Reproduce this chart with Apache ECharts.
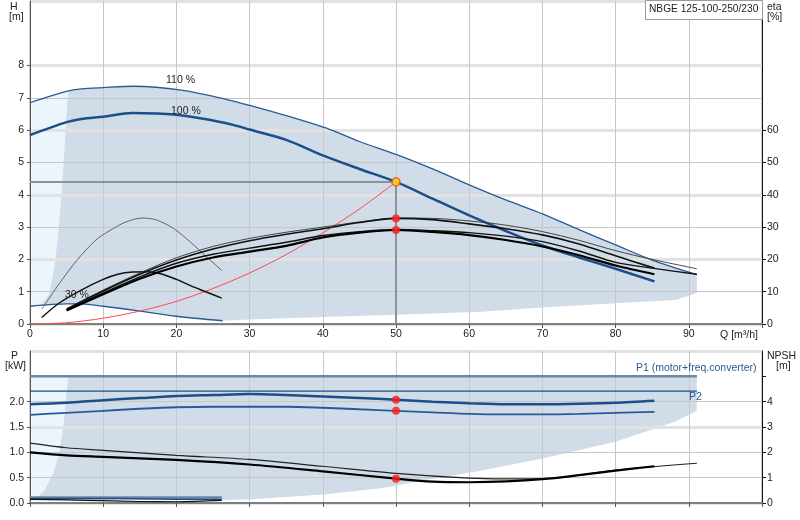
<!DOCTYPE html>
<html>
<head>
<meta charset="utf-8">
<script src="https://cdn.jsdelivr.net/npm/echarts@6/dist/echarts.min.js"></script>
<style>
html,body{margin:0;padding:0;background:#fff;}
#container{width:800px;height:520px;}
</style>
</head>
<body>
<div id="container"></div>
<script>
// head curves (Q in m3/h, H in m)
var Q_H110 = [0, 5, 7, 10, 14.1, 20.7, 26.9, 30, 35, 41, 45, 50, 55, 60, 65, 70, 75, 80, 85, 91.1];
var H110 = [6.85, 7.2, 7.28, 7.32, 7.36, 7.24, 6.95, 6.77, 6.45, 6.02, 5.65, 5.25, 4.8, 4.31, 3.84, 3.41, 2.92, 2.45, 1.98, 1.53];
var Q_H100 = [0, 5, 7, 10, 14, 20, 25, 28, 30, 35, 40, 45, 50, 55, 60, 65, 70, 75, 80, 85.3];
var H100 = [5.85, 6.25, 6.35, 6.42, 6.53, 6.48, 6.3, 6.15, 6.02, 5.7, 5.22, 4.8, 4.4, 3.88, 3.36, 2.88, 2.43, 2.06, 1.71, 1.32];
var Q_H30 = [0, 5, 7, 10, 15, 20, 26.3];
var H30 = [0.55, 0.62, 0.62, 0.55, 0.40, 0.24, 0.10];
var Q_SYS = [0, 5, 10, 15, 20, 25, 30, 35, 40, 45, 50];
var H_SYS = [0, 0.04, 0.18, 0.40, 0.70, 1.10, 1.58, 2.15, 2.82, 3.56, 4.4];

// efficiency curves (%)
var Q_ETA110 = [5, 10, 15, 20, 25, 30, 35, 40, 45, 50, 55, 60, 65, 70, 75, 80, 85, 91.1];
var ETA_P110 = [4.8, 10.5, 15.8, 20.5, 24.0, 26.5, 28.4, 30.0, 31.6, 32.8, 32.7, 31.9, 30.6, 28.6, 25.9, 22.7, 20.0, 17.1];
var ETA_T110 = [4.4, 9.6, 14.6, 18.8, 21.6, 23.5, 25.3, 27.4, 28.6, 29.3, 28.9, 28.3, 27.2, 25.5, 22.6, 19.1, 17.3, 15.4];
var Q_ETA100 = [5, 10, 15, 20, 25, 30, 35, 40, 45, 50, 55, 60, 65, 70, 75, 80, 85.3];
var ETA_P100 = [4.5, 10.2, 15.4, 19.8, 23.2, 25.8, 27.8, 29.5, 31.4, 32.7, 32.3, 31.0, 29.5, 27.6, 24.8, 21.1, 17.3];
var ETA_T100 = [4.2, 9.2, 14.0, 17.8, 20.6, 22.4, 24.2, 26.8, 28.3, 29.1, 28.5, 27.5, 26.0, 24.0, 21.3, 18.1, 15.4];
var Q_ETA30A = [1.6, 4, 6.4, 9, 10.9, 13, 15.3, 17.3, 19.6, 22, 24, 26.2];
var ETA30A = [4.6, 12.5, 19.7, 26.0, 28.9, 31.5, 32.8, 32.2, 29.6, 25.2, 21.0, 16.6];
var Q_ETA30B = [1.6, 4, 7, 10, 12, 14, 16, 18, 20, 22, 24, 26.2];
var ETA30B = [2.0, 6.5, 10.5, 13.8, 15.4, 16.1, 16.2, 15.5, 13.8, 11.8, 10.0, 8.0];

// duty point
var DUTY_Q = 50;
var DUTY_H = 4.4;
var DUTY_ETA = [32.7, 29.1];
var DUTY_P = [2.04, 1.82];
var DUTY_NPSH = 0.96;

// power (kW) and NPSH (m)
var Q_P100 = [0, 5, 10, 15, 20, 25, 30, 35, 40, 45, 50, 55, 60, 65, 70, 75, 80, 85.3];
var P1_100 = [1.95, 1.98, 2.03, 2.07, 2.11, 2.13, 2.15, 2.13, 2.10, 2.07, 2.04, 2.0, 1.97, 1.95, 1.95, 1.96, 1.98, 2.02];
var P2_100 = [1.74, 1.78, 1.82, 1.86, 1.89, 1.90, 1.90, 1.90, 1.88, 1.85, 1.82, 1.79, 1.76, 1.75, 1.75, 1.76, 1.78, 1.80];
var Q_PMAX = [0, 91.1];
var P1_MAX = [2.5, 2.5];
var P2_MAX = [2.21, 2.21];
var Q_P30 = [0, 5, 10, 15, 20, 26.2];
var P1_30 = [0.11, 0.11, 0.11, 0.11, 0.11, 0.11];
var P2_30 = [0.09, 0.09, 0.09, 0.085, 0.075, 0.07];
var NPSH_30 = [0.14, 0.12, 0.09, 0.06, 0.05, 0.1];
var Q_NPSH_A = [0, 5, 10, 20, 30, 40, 50, 60, 65, 70, 75, 80, 91.1];
var NPSH_A = [2.36, 2.18, 2.08, 1.88, 1.72, 1.45, 1.17, 0.98, 0.95, 0.95, 1.1, 1.3, 1.57];
var Q_NPSH_B = [0, 5, 10, 20, 30, 40, 50, 55, 60, 65, 70, 75, 80, 85.3];
var NPSH_B = [2.0, 1.88, 1.82, 1.70, 1.52, 1.25, 0.96, 0.84, 0.82, 0.85, 0.94, 1.1, 1.28, 1.45];

// tick labels
var Q_TICKS = [0, 10, 20, 30, 40, 50, 60, 70, 80, 90];
var H_TICKS = [0, 1, 2, 3, 4, 5, 6, 7, 8];
var ETA_TICKS = [0, 10, 20, 30, 40, 50, 60];
var P_TICKS = [0, 0.5, 1.0, 1.5, 2.0];
var NPSH_TICKS = [0, 1, 2, 3, 4];

// operating range outlines
var EDGE_Q = [1.5, 2.64, 3.33, 3.88, 4.24, 4.56, 4.83, 5.1, 5.24];
var EDGE_H = [0.57, 0.94, 1.76, 2.79, 3.82, 4.84, 5.87, 6.89, 7.2];
var LOW_Q = [91.1, 88.2, 80, 70, 61.6, 50, 40, 30, 26.3];
var LOW_H = [0.96, 0.74, 0.64, 0.51, 0.38, 0.29, 0.22, 0.14, 0.10];
var B_EDGE_Q = [1.0, 2.05, 3.2, 4.0, 4.56, 5.0, 5.24];
var B_EDGE_P = [0.11, 0.26, 0.59, 0.98, 1.51, 2.17, 2.5];
var B_LOW_Q = [91.1, 88, 80, 70, 61, 55, 48, 40, 30, 26.2, 1.0];
var B_LOW_P = [1.82, 1.6, 1.21, 0.88, 0.62, 0.48, 0.29, 0.17, 0.07, 0.06, 0.06];

function zip(a, b) {
  return a.map(function (v, i) { return [v, b[i]]; });
}

// top shaded area: left edge, 110% curve, right edge, lower edge, 30% curve back
var topArea = zip(EDGE_Q, EDGE_H)
  .concat(zip(Q_H110, H110).filter(function (d) { return d[0] > 5.24; }))
  .concat(zip(LOW_Q, LOW_H))
  .concat(zip(Q_H30, H30).filter(function (d) { return d[0] < 26.3 && d[0] > 1.5; }).reverse());
var topLight = [[0, H30[0]], [5.3, H30[1]], [5.3, 7.21], [0, H110[0]]];
var botArea = zip(B_EDGE_Q, B_EDGE_P).concat([[91.1, 2.5]]).concat(zip(B_LOW_Q, B_LOW_P));
var botLight = [[0, 0.1], [5.3, 0.1], [5.3, 2.5], [0, 2.5]];

function area(pts, color, g) {
  return {
    type: 'custom', xAxisIndex: g, yAxisIndex: g * 3, silent: true, z: -1,
    data: pts,
    renderItem: function (params, api) {
      if (params.dataIndex !== 0) return;
      return {
        type: 'polygon',
        shape: { points: pts.map(function (d) { return api.coord(d); }) },
        style: { fill: color }
      };
    }
  };
}

function curve(q, v, xi, yi, color, width) {
  return {
    type: 'line', xAxisIndex: xi, yAxisIndex: yi, data: zip(q, v),
    showSymbol: false, symbol: 'none', smooth: 0.3, silent: true, z: 3,
    lineStyle: { color: color, width: width }
  };
}

function dots(pts, xi, yi, fill, border) {
  return {
    type: 'scatter', xAxisIndex: xi, yAxisIndex: yi, data: pts, symbolSize: 8, z: 6,
    itemStyle: { color: fill, borderColor: border, borderWidth: border ? 1.5 : 0 }
  };
}

var chart = echarts.init(document.getElementById('container'));
var font = 'Liberation Sans, Arial, sans-serif';
var fs = 10.5;
var lbl = { color: '#222', fontSize: fs, fontFamily: font };
var blue = '#1b4f8a';
var blue2 = '#2a5a96';
var slate = '#6e86a5';

function txt(x, y, s, color) {
  return { type: 'text', left: x, top: y, z: 11, style: { text: s, font: fs + 'px ' + font, fill: color || '#222' } };
}

var option = {
  animation: false,
  textStyle: { fontFamily: font },
  grid: [
    { left: 30, right: 38, top: 1, height: 323, show: true, borderColor: '#9a9a9a', borderWidth: 1 },
    { left: 30, right: 38, top: 351, height: 152, show: true, borderColor: '#9a9a9a', borderWidth: 1 }
  ],
  xAxis: [
    {
      gridIndex: 0, type: 'value', min: 0, max: 100, interval: 10,
      name: 'Q [m³/h]', nameLocation: 'end', nameGap: 0,
      nameTextStyle: { color: '#222', fontSize: fs, align: 'right', verticalAlign: 'top', padding: [6, 4, 0, 0] },
      axisLine: { lineStyle: { color: '#7f7f7f', width: 2 } },
      axisTick: { length: 4, lineStyle: { color: '#555' } },
      axisLabel: Object.assign({ margin: 5, customValues: Q_TICKS }, lbl),
      splitLine: { lineStyle: { color: '#c8c8c8' } }
    },
    {
      gridIndex: 1, type: 'value', min: 0, max: 100, interval: 10,
      axisLine: { lineStyle: { color: '#7f7f7f', width: 2 } },
      axisTick: { length: 4, lineStyle: { color: '#555' } },
      axisLabel: { show: false },
      splitLine: { lineStyle: { color: '#c8c8c8' } }
    }
  ],
  yAxis: [
    {
      gridIndex: 0, type: 'value', min: 0, max: 10, interval: 1,
      axisLine: { show: true, lineStyle: { color: '#555' } },
      axisTick: { show: true, length: 3, customValues: H_TICKS, lineStyle: { color: '#555' } },
      axisLabel: Object.assign({ margin: 6, customValues: H_TICKS }, lbl),
      splitLine: { lineStyle: { color: '#c6c6c6' } }
    },
    {
      gridIndex: 0, type: 'value', position: 'right', min: 0, max: 100, interval: 10,
      axisLine: { show: true, lineStyle: { color: '#111' } },
      axisTick: { show: true, length: 4, customValues: ETA_TICKS, lineStyle: { color: '#111' } },
      axisLabel: Object.assign({ margin: 5, customValues: ETA_TICKS }, lbl),
      splitLine: { show: false }
    },
    {
      gridIndex: 0, type: 'value', min: 0, max: 100, interval: 20, show: true,
      axisLine: { show: false }, axisTick: { show: false }, axisLabel: { show: false },
      splitLine: { lineStyle: { color: '#e2e2e2', width: 3 } }
    },
    {
      gridIndex: 1, type: 'value', min: 0, max: 3, interval: 0.5,
      axisLine: { show: true, lineStyle: { color: '#555' } },
      axisTick: { show: true, length: 3, customValues: P_TICKS, lineStyle: { color: '#555' } },
      axisLabel: Object.assign({ margin: 6, customValues: P_TICKS, formatter: function (v) { return v.toFixed(1); } }, lbl),
      splitLine: { lineStyle: { color: '#c6c6c6' } }
    },
    {
      gridIndex: 1, type: 'value', position: 'right', min: 0, max: 6, interval: 1,
      axisLine: { show: true, lineStyle: { color: '#111' } },
      axisTick: { show: true, length: 4, customValues: NPSH_TICKS.concat([5]), lineStyle: { color: '#111' } },
      axisLabel: Object.assign({ margin: 5, customValues: NPSH_TICKS }, lbl),
      splitLine: { show: false }
    },
    {
      gridIndex: 1, type: 'value', min: 0, max: 6, interval: 3, show: true,
      axisLine: { show: false }, axisTick: { show: false }, axisLabel: { show: false },
      splitLine: { lineStyle: { color: '#e2e2e2', width: 3 } }
    }
  ],
  series: [
    area(topLight, '#ecf4fc', 0),
    area(topArea, '#d0dce8', 0),
    area(botLight, '#ecf4fc', 1),
    area(botArea, '#d0dce8', 1),

    // top panel
    curve(Q_H110, H110, 0, 0, blue2, 1.3),
    curve(Q_H100, H100, 0, 0, blue, 2.5),
    curve(Q_H30, H30, 0, 0, blue2, 1.3),
    curve(Q_SYS, H_SYS, 0, 0, '#ff4a4a', 1),
    curve(Q_ETA30A, ETA30A, 0, 1, '#555', 0.9),
    curve(Q_ETA30B, ETA30B, 0, 1, '#111', 1.5),
    curve(Q_ETA110, ETA_P110, 0, 1, '#333', 0.9),
    curve(Q_ETA110, ETA_T110, 0, 1, '#111', 1.4),
    curve(Q_ETA100, ETA_P100, 0, 1, '#111', 1.6),
    curve(Q_ETA100, ETA_T100, 0, 1, '#000', 2.2),
    {
      type: 'line', xAxisIndex: 0, yAxisIndex: 0, silent: true, z: 4,
      data: [[0, DUTY_H], [DUTY_Q, DUTY_H], [DUTY_Q, 0]],
      showSymbol: false, symbol: 'none', lineStyle: { color: '#8c9298', width: 2 }
    },
    dots([[DUTY_Q, DUTY_H]], 0, 0, '#f3e400', '#ff3b1f'),
    dots(DUTY_ETA.map(function (v) { return [DUTY_Q, v]; }), 0, 1, '#ff1a1a'),

    // bottom panel
    curve(Q_PMAX, P1_MAX, 1, 3, slate, 2.5),
    curve(Q_PMAX, P2_MAX, 1, 3, blue, 1.2),
    curve(Q_P100, P1_100, 1, 3, blue, 2.5),
    curve(Q_P100, P2_100, 1, 3, blue2, 1.8),
    curve(Q_P30, P1_30, 1, 3, slate, 2.5),
    curve(Q_P30, P2_30, 1, 3, blue, 1.5),
    curve(Q_P30, NPSH_30, 1, 4, '#111', 1.2),
    curve(Q_NPSH_A, NPSH_A, 1, 4, '#222', 1.2),
    curve(Q_NPSH_B, NPSH_B, 1, 4, '#000', 2.2),
    dots(DUTY_P.map(function (v) { return [DUTY_Q, v]; }), 1, 3, '#ff1a1a'),
    dots([[DUTY_Q, DUTY_NPSH]], 1, 4, '#ff1a1a')
  ],
  graphic: [
    txt(10, 2, 'H'),
    txt(9, 12, '[m]'),
    txt(767, 2, 'eta'),
    txt(767, 12, '[%]'),
    txt(11, 351, 'P'),
    txt(5, 361, '[kW]'),
    txt(767, 351, 'NPSH'),
    txt(776, 361, '[m]'),
    txt(166, 75, '110 %'),
    txt(171, 106, '100 %'),
    txt(65, 290, '30 %'),
    txt(636, 363, 'P1 (motor+freq.converter)', blue2),
    txt(689, 392, 'P2', blue2),
    {
      type: 'rect', left: 645, top: 0, z: 10,
      shape: { width: 117, height: 19 },
      style: { fill: '#fff', stroke: '#999', lineWidth: 1 }
    },
    { type: 'text', left: 649, top: 4, z: 11, style: { text: 'NBGE 125-100-250/230', font: '10.2px ' + font, fill: '#222' } }
  ]
};

chart.setOption(option);
</script>
</body>
</html>
